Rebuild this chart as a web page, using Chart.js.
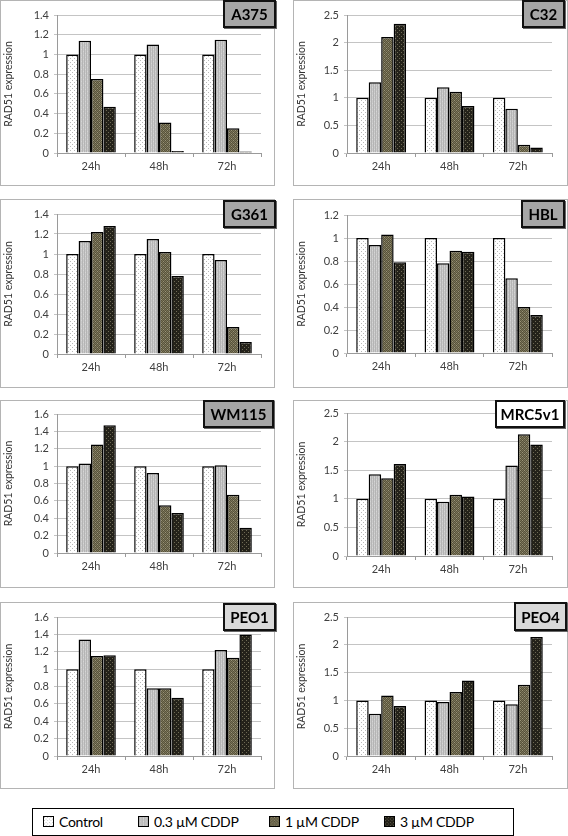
<!DOCTYPE html>
<html>
<head>
<meta charset="utf-8">
<script src="https://cdn.jsdelivr.net/npm/chart.js@4"></script>
<style>
  html, body { margin:0; padding:0; background:#fff; }
  body { width:568px; height:836px; position:relative; overflow:hidden; font-family: Lato, "Open Sans", sans-serif; }
  .panel { position:absolute; border:1px solid #b4b4b4; box-sizing:border-box; }
  canvas.ch { position:absolute; }
  .tag { position:absolute; box-sizing:border-box; border:2px solid #111; font-weight:bold; font-size:15px; color:#000;
         display:flex; align-items:center; justify-content:center; font-family: Lato, sans-serif; box-shadow:1px 1px 0 #666; }
  #legend { position:absolute; left:32px; top:808px; width:482px; height:28px; box-sizing:border-box; border:1.5px solid #000;
            font-size:14px; letter-spacing:-0.3px; color:#000; font-family: Lato, sans-serif; }
  .li { position:absolute; top:0; height:25px; display:flex; align-items:center; }
  .li canvas { margin-right:5px; border:1px solid #000; box-sizing:border-box; }
</style>
</head>
<body>
<div id="legend"></div>
<script>
// ---- data ----
const categories = ['24h', '48h', '72h'];
const seriesNames = ['Control', '0.3 \u00b5M CDDP', '1 \u00b5M CDDP', '3 \u00b5M CDDP'];
const cellLines = ['A375', 'C32', 'G361', 'HBL', 'WM115', 'MRC5v1', 'PEO1', 'PEO4'];
const yMax  = [1.4, 2.5, 1.4, 1.2, 1.6, 2.5, 1.6, 2.5];
const yStep = [0.2, 0.5, 0.2, 0.2, 0.2, 0.5, 0.2, 0.5];
// rows: Control, 0.3 uM, 1 uM, 3 uM ; columns: 24h, 48h, 72h
const A375   = [[1.00, 1.00, 1.00], [1.14, 1.10, 1.15], [0.75, 0.31, 0.25], [0.47, 0.02, 0.015]];
const C32    = [[1.00, 1.00, 1.00], [1.28, 1.19, 0.80], [2.10, 1.11, 0.15], [2.34, 0.85, 0.10]];
const G361   = [[1.00, 1.00, 1.00], [1.13, 1.15, 0.94], [1.22, 1.02, 0.27], [1.28, 0.78, 0.12]];
const HBL    = [[1.00, 1.00, 1.00], [0.94, 0.78, 0.65], [1.03, 0.89, 0.40], [0.79, 0.88, 0.33]];
const WM115  = [[1.00, 1.00, 1.00], [1.03, 0.92, 1.01], [1.25, 0.55, 0.67], [1.47, 0.46, 0.29]];
const MRC5v1 = [[1.00, 1.00, 1.00], [1.43, 0.95, 1.58], [1.36, 1.07, 2.13], [1.61, 1.04, 1.95]];
const PEO1   = [[1.00, 1.00, 1.00], [1.34, 0.78, 1.22], [1.15, 0.78, 1.13], [1.16, 0.67, 1.40]];
const PEO4   = [[1.00, 1.00, 1.00], [0.76, 0.97, 0.93], [1.09, 1.15, 1.28], [0.90, 1.36, 2.14]];
const panelData = [A375, C32, G361, HBL, WM115, MRC5v1, PEO1, PEO4];

// ---- layout (pixels) ----
// panel box: [left, top, width, height]; plot: [top, bottom]; tag box: [left, top, width, height, fill]
const panelBoxes = [[0,0,275,186],[293,0,275,186],[0,199,275,189],[293,199,275,189],[0,400,275,188],[293,400,275,188],[0,602,275,187],[293,602,275,187]];
const plotTB = [[15,153],[15,153],[214,354],[215,353],[414,553],[413,556],[617,756],[617,756]];
const tagBoxes = [[223,0,53,28,'#a6a6a6'],[522,0,43,28,'#a6a6a6'],[223,200,53,28,'#a6a6a6'],[521,200,44,28,'#a6a6a6'],
                  [203,400,71,28,'#a6a6a6'],[495,400,70,28,'#ffffff'],[223,603,53,28,'#d9d9d9'],[514,602,53,29,'#d9d9d9']];

// ---- patterns ----
function makePattern(kind) {
  const c = document.createElement('canvas');
  c.width = 4; c.height = 4;
  const g = c.getContext('2d');
  if (kind === 0) {
    g.fillStyle = '#ffffff'; g.fillRect(0,0,4,4);
    g.fillStyle = '#b8b8b8'; g.fillRect(0,0,1,1); g.fillRect(2,2,1,1);
  } else if (kind === 1) {
    g.fillStyle = '#cacaca'; g.fillRect(0,0,4,4);
    g.fillStyle = '#b4b4b4'; g.fillRect(0,0,1,4); g.fillRect(2,0,1,4);
    g.fillStyle = '#d6d6d6'; g.fillRect(1,1,1,1); g.fillRect(3,3,1,1);
  } else if (kind === 2) {
    g.fillStyle = '#7b7558'; g.fillRect(0,0,4,4);
    g.fillStyle = '#57523c'; g.fillRect(0,0,1,1); g.fillRect(2,0,1,1); g.fillRect(1,1,1,1); g.fillRect(3,1,1,1);
    g.fillRect(0,2,1,1); g.fillRect(2,2,1,1); g.fillRect(1,3,1,1); g.fillRect(3,3,1,1);
    g.fillStyle = '#9a9477'; g.fillRect(1,0,1,1); g.fillRect(3,2,1,1);
  } else {
    g.fillStyle = '#24221a'; g.fillRect(0,0,4,4);
    g.fillStyle = '#6e6a55'; g.fillRect(0,0,1,1); g.fillRect(2,2,1,1);
  }
  return g.createPattern(c, 'repeat');
}
const patterns = [0,1,2,3].map(makePattern);

const tickFont = { family: 'Lato, sans-serif', size: 11 };
const tickColor = '#404040';

panelData.forEach((rows, i) => {
  const [pl, pt, pw, ph] = panelBoxes[i];
  const [plotTop, plotBottom] = plotTB[i];
  const isLeft = (i % 2 === 0);
  const yAxisW = isLeft ? 57 : 54;
  const rightPad = isLeft ? 14 : 16;

  const border = document.createElement('div');
  border.className = 'panel';
  border.style.cssText = `left:${pl}px;top:${pt}px;width:${pw}px;height:${ph}px;`;
  document.body.appendChild(border);

  const cv = document.createElement('canvas');
  cv.className = 'ch';
  cv.width = pw; cv.height = ph;
  cv.style.cssText = `left:${pl}px;top:${pt}px;width:${pw}px;height:${ph}px;`;
  document.body.appendChild(cv);

  const xH = (pt + ph) - plotBottom;
  new Chart(cv, {
    type: 'bar',
    data: {
      labels: categories,
      datasets: rows.map((vals, s) => ({
        label: seriesNames[s],
        data: vals,
        backgroundColor: patterns[s],
        borderColor: '#000',
        borderWidth: 1.5,
        borderSkipped: 'bottom',
        categoryPercentage: 0.73,
        barPercentage: 1.0
      }))
    },
    options: {
      responsive: false,
      animation: false,
      layout: { padding: { top: plotTop - pt, right: rightPad, left: 0, bottom: 0 } },
      plugins: { legend: { display: false }, tooltip: { enabled: false } },
      scales: {
        x: {
          grid: { display: true, offset: true, drawOnChartArea: false, drawTicks: true, tickLength: 4, color: '#9a9a9a' },
          border: { color: '#9a9a9a' },
          ticks: { font: tickFont, color: tickColor, padding: 3 },
          afterFit: (sc) => { sc.height = xH; }
        },
        y: {
          min: 0, max: yMax[i],
          grid: { color: '#c4c4c4', tickLength: 3, lineWidth: 1 },
          border: { color: '#9a9a9a' },
          ticks: { stepSize: yStep[i], font: tickFont, color: tickColor, padding: 5,
                   callback: (v) => String(+Number(v).toFixed(2)) },
          title: { display: true, text: 'RAD51 expression', color: '#333', font: { family: 'Lato, sans-serif', size: 10.5 }, padding: { top: 2, bottom: 2 } },
          afterFit: (sc) => { sc.width = yAxisW; }
        }
      }
    }
  });

  const [tl, tt, tw, th, tf] = tagBoxes[i];
  const tag = document.createElement('div');
  tag.className = 'tag';
  tag.style.cssText = `left:${tl}px;top:${tt}px;width:${tw}px;height:${th}px;background:${tf};`;
  tag.textContent = cellLines[i];
  document.body.appendChild(tag);
});

// ---- legend ----
const legendX = [10, 105, 236, 351];
const legend = document.getElementById('legend');
seriesNames.forEach((name, s) => {
  const item = document.createElement('div');
  item.className = 'li';
  item.style.left = legendX[s] + 'px';
  const sw = document.createElement('canvas');
  sw.width = 11; sw.height = 11;
  sw.style.width = '11px'; sw.style.height = '11px';
  const g = sw.getContext('2d');
  g.fillStyle = patterns[s]; g.fillRect(0,0,11,11);
  item.appendChild(sw);
  const t = document.createElement('span');
  t.textContent = name;
  item.appendChild(t);
  legend.appendChild(item);
});
</script>
</body>
</html>
